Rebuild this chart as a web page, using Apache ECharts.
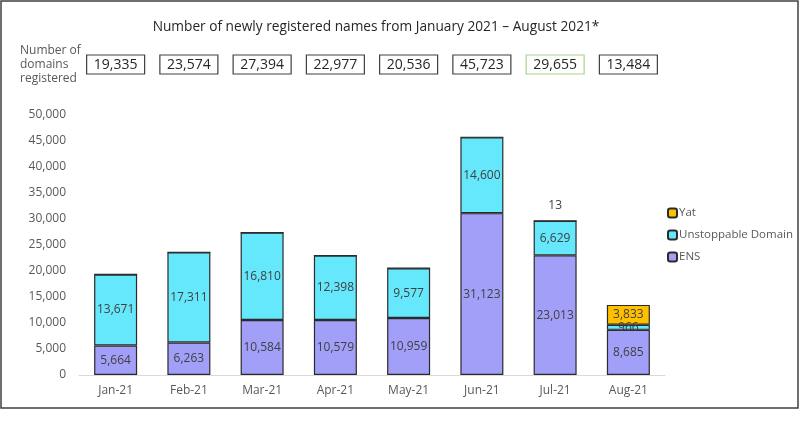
<!DOCTYPE html>
<html><head><meta charset="utf-8">
<script src="https://cdn.jsdelivr.net/npm/echarts@6/dist/echarts.min.js"></script>
<style>html,body{margin:0;padding:0;background:#fff}#c{width:800px;height:433px}</style>
</head><body><div id="c"></div>
<script>
const months = ['Jan-21','Feb-21','Mar-21','Apr-21','May-21','Jun-21','Jul-21','Aug-21'];
const ens = [5664, 6263, 10584, 10579, 10959, 31123, 23013, 8685];
const unstoppable = [13671, 17311, 16810, 12398, 9577, 14600, 6629, 966];
const yat = [0, 0, 0, 0, 0, 0, 13, 3833];
const totals = ['19,335','23,574','27,394','22,977','20,536','45,723','29,655','13,484'];
const yTicks = {min: 0, max: 50000, interval: 5000};

const FONT = '"Open Sans", sans-serif';
const chart = echarts.init(document.getElementById('c'), null, {renderer: 'canvas'});
const fmt = v => v.toLocaleString('en-US');

const labelCommon = {show: true, position: 'inside', color: '#404040', fontSize: 12, fontFamily: FONT,
  formatter: p => p.value ? fmt(p.value) : ''};

chart.setOption({
  animation: false,
  textStyle: {fontFamily: FONT},
  title: {text: 'Number of newly registered names from January 2021 \u2013 August 2021*',
    left: 371, top: 15, textAlign: 'center',
    textStyle: {fontSize: 13.7, fontWeight: 'normal', color: '#262626', fontFamily: FONT}},
  graphic: [
    {type: 'rect', shape: {x: 1, y: 1, width: 797, height: 407}, style: {fill: 'none', stroke: '#404040', lineWidth: 1.5}, silent: true},
    {type: 'text', left: 20, top: 44, style: {text: 'Number of\ndomains\nregistered', fill: '#595959', font: '12px ' + FONT, lineHeight: 14}}
  ],
  legend: {orient: 'vertical', left: 662, top: 202, itemWidth: 9, itemHeight: 9, itemGap: 10,
    data: ['Yat', 'Unstoppable Domain', 'ENS'],
    textStyle: {color: '#595959', fontSize: 11.5, fontFamily: FONT, padding: [0, 0, 0, -3]}},
  grid: {left: 79, right: 135, top: 115, bottom: 58},
  xAxis: [
    {type: 'category', data: months, axisTick: {show: false},
      axisLine: {lineStyle: {color: '#d9d9d9', width: 1}},
      axisLabel: {color: '#595959', fontSize: 12, fontFamily: FONT, margin: 10}},
    {type: 'category', data: totals, position: 'top', axisTick: {show: false}, axisLine: {show: false},
      axisLabel: {margin: 41, interval: 0,
        formatter: (v, i) => (i === 6 ? '{g|' : '{b|') + v + '}',
        rich: {
          b: {fontSize: 14, color: '#262626', fontFamily: FONT, borderColor: '#404040', borderWidth: 1.2, width: 48, align: 'center', padding: [3, 5, 2, 5]},
          g: {fontSize: 14, color: '#262626', fontFamily: FONT, borderColor: '#a9d18e', borderWidth: 1.2, width: 48, align: 'center', padding: [3, 5, 2, 5]}
        }}}
  ],
  yAxis: {type: 'value', min: yTicks.min, max: yTicks.max, interval: yTicks.interval,
    splitLine: {show: false}, axisLine: {show: false}, axisTick: {show: false},
    axisLabel: {color: '#595959', fontSize: 12, fontFamily: FONT, margin: 13, formatter: v => fmt(v)}},
  series: [
    {name: 'ENS', type: 'bar', stack: 'a', data: ens, barWidth: 43,
      itemStyle: {color: '#a29ff8', borderColor: '#2b2b2b', borderWidth: 1.2}, label: labelCommon},
    {name: 'Unstoppable Domain', type: 'bar', stack: 'a', data: unstoppable,
      itemStyle: {color: '#66e8fc', borderColor: '#2b2b2b', borderWidth: 1.2}, label: labelCommon},
    {name: 'Yat', type: 'bar', stack: 'a',
      data: yat.map((v, i) => v < 100 && v > 0 ? {value: v, label: {position: 'top', distance: 9}} : v),
      itemStyle: {color: '#ffc000', borderColor: '#2b2b2b', borderWidth: 1.2}, label: labelCommon}
  ]
});
</script></body></html>
